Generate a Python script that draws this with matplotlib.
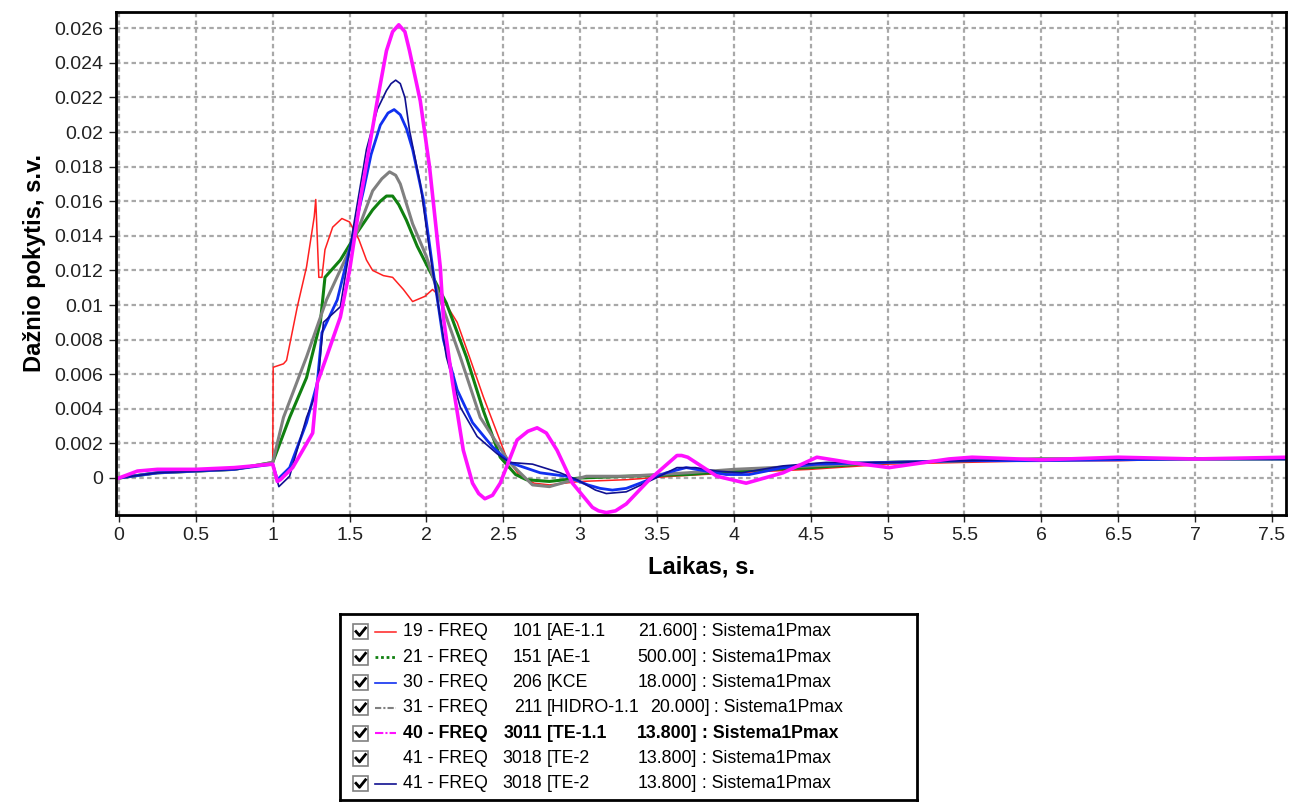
import numpy as np
import matplotlib
matplotlib.use("Agg")
import matplotlib.pyplot as plt
from matplotlib.patches import Rectangle
from matplotlib.ticker import FuncFormatter, FixedLocator

plt.rcParams['font.family'] = ['Liberation Sans', 'DejaVu Sans']

# --- data (time in s, frequency deviation in p.u.) ---
t_red = [0, 0.25, 0.5, 0.75, 1.0, 1.003, 1.07, 1.09, 1.16, 1.22, 1.27, 1.28, 1.30, 1.32,
         1.34, 1.39, 1.45, 1.50, 1.56, 1.61, 1.65, 1.72, 1.78, 1.85, 1.91, 1.99, 2.04,
         2.11, 2.20, 2.28, 2.37, 2.46, 2.52, 2.60, 2.70, 2.80, 3.0, 3.3, 3.6, 4.0, 4.5,
         5.0, 5.5, 6.0, 6.5, 7.0, 7.6]
y_red = [0, 0.0003, 0.0004, 0.0005, 0.0008, 0.0064, 0.0066, 0.0068, 0.0099, 0.0122,
         0.0151, 0.0161, 0.0116, 0.0116, 0.0132, 0.0145, 0.0150, 0.0148, 0.0138, 0.0126,
         0.0120, 0.0117, 0.0116, 0.0109, 0.0102, 0.0105, 0.0109, 0.0103, 0.0090, 0.0070,
         0.0047, 0.0026, 0.0012, 0.0002, -0.0003, -0.0004, -0.0002, -0.0001, 0.0001,
         0.0003, 0.0005, 0.0008, 0.0009, 0.0010, 0.0010, 0.0011, 0.0011]

t_green = [0, 0.25, 0.5, 0.75, 1.0, 1.11, 1.22, 1.31, 1.34, 1.44, 1.55, 1.65, 1.70, 1.74,
           1.78, 1.82, 1.87, 1.94, 2.02, 2.13, 2.26, 2.37, 2.48, 2.58, 2.65, 2.80, 3.0,
           3.3, 3.7, 4.0, 4.5, 5.0, 5.5, 6.0, 6.5, 7.0, 7.6]
y_green = [0, 0.0003, 0.0004, 0.0005, 0.0009, 0.0035, 0.0058, 0.0090, 0.0116, 0.0126,
           0.0142, 0.0155, 0.0160, 0.0163, 0.0163, 0.0158, 0.0149, 0.0134, 0.0120,
           0.0101, 0.0070, 0.0039, 0.0012, 0.0002, -0.0001, -0.0002, 0.0, 0.0001,
           0.0002, 0.0004, 0.0006, 0.0009, 0.0010, 0.0011, 0.0011, 0.0011, 0.0011]

t_blue = [0, 0.25, 0.5, 0.75, 1.0, 1.03, 1.11, 1.22, 1.29, 1.32, 1.42, 1.50, 1.59, 1.64,
          1.70, 1.75, 1.79, 1.83, 1.87, 1.91, 1.98, 2.04, 2.11, 2.20, 2.30, 2.43, 2.54,
          2.74, 2.91, 3.05, 3.13, 3.21, 3.30, 3.39, 3.56, 3.69, 3.95, 4.10, 4.32, 4.54,
          5.0, 5.5, 6.0, 7.0, 7.6]
y_blue = [0, 0.0003, 0.0004, 0.0005, 0.0008, -0.0001, 0.0006, 0.0032, 0.0055, 0.0084,
          0.0103, 0.0132, 0.0166, 0.0187, 0.0204, 0.0211, 0.0213, 0.0210, 0.0202,
          0.0190, 0.0161, 0.0122, 0.0080, 0.0051, 0.0032, 0.0018, 0.0009, 0.0003,
          0.0001, -0.0004, -0.0006, -0.0007, -0.0006, -0.0003, 0.0003, 0.0006, 0.0002,
          0.0002, 0.0006, 0.0008, 0.0009, 0.0010, 0.0010, 0.0011, 0.0011]

t_gray = [0, 0.25, 0.5, 0.75, 1.0, 1.07, 1.22, 1.35, 1.48, 1.57, 1.65, 1.71, 1.76, 1.80,
          1.83, 1.91, 2.0, 2.09, 2.22, 2.35, 2.54, 2.69, 2.80, 3.04, 3.3, 3.7, 4.0, 4.5,
          5.0, 5.5, 6.0, 6.5, 7.0, 7.6]
y_gray = [0, 0.0003, 0.0004, 0.0005, 0.0009, 0.0035, 0.0070, 0.0103, 0.0128, 0.0147,
          0.0166, 0.0173, 0.0177, 0.0175, 0.0170, 0.0147, 0.0128, 0.0103, 0.0070,
          0.0035, 0.0009, -0.0004, -0.0005, 0.0001, 0.0001, 0.0003, 0.0005, 0.0007,
          0.0009, 0.0010, 0.0011, 0.0011, 0.0011, 0.0011]

t_mag = [0, 0.12, 0.25, 0.5, 0.75, 1.0, 1.03, 1.05, 1.13, 1.26, 1.29, 1.35, 1.44, 1.50,
         1.57, 1.63, 1.68, 1.74, 1.78, 1.82, 1.86, 1.89, 1.96, 2.02, 2.09, 2.11, 2.17,
         2.24, 2.30, 2.34, 2.38, 2.43, 2.48, 2.59, 2.66, 2.72, 2.78, 2.85, 2.95, 3.08,
         3.12, 3.17, 3.23, 3.30, 3.45, 3.63, 3.66, 3.70, 3.89, 4.08, 4.32, 4.54, 4.75,
         5.01, 5.40, 5.55, 6.0, 6.5, 7.0, 7.6]
y_mag = [0, 0.0004, 0.0005, 0.0005, 0.0006, 0.0008, -0.0002, -0.0001, 0.0006, 0.0026,
         0.0055, 0.0070, 0.0093, 0.0120, 0.0161, 0.0192, 0.0218, 0.0247, 0.0258,
         0.0262, 0.0258, 0.0247, 0.0218, 0.0180, 0.0122, 0.0093, 0.0055, 0.0016,
         -0.0003, -0.0009, -0.0012, -0.0010, -0.0003, 0.0022, 0.0027, 0.0029, 0.0026,
         0.0016, -0.0003, -0.0017, -0.0019, -0.0020, -0.0019, -0.0015, -0.0001, 0.0013,
         0.0013, 0.0012, 0.0001, -0.0003, 0.0003, 0.0012, 0.0009, 0.0006, 0.0011,
         0.0012, 0.00105, 0.0012, 0.0011, 0.0012]

t_navy = [0, 0.25, 0.5, 0.75, 1.0, 1.04, 1.11, 1.22, 1.29, 1.33, 1.44, 1.50, 1.61, 1.68,
          1.74, 1.77, 1.80, 1.83, 1.86, 1.89, 1.96, 2.02, 2.13, 2.22, 2.33, 2.46, 2.54,
          2.69, 2.87, 2.98, 3.10, 3.17, 3.30, 3.47, 3.63, 3.75, 3.89, 4.05, 4.32, 4.6,
          5.0, 5.5, 6.0, 7.0, 7.6]
y_navy = [0, 0.0003, 0.0004, 0.0005, 0.0008, -0.0005, 0.0001, 0.0035, 0.0051, 0.0090,
          0.0099, 0.0132, 0.0190, 0.0213, 0.0224, 0.0228, 0.0230, 0.0228, 0.0220,
          0.0201, 0.0170, 0.0132, 0.0070, 0.0041, 0.0024, 0.0014, 0.0009, 0.0008,
          0.0003, -0.0001, -0.0007, -0.0009, -0.0008, -0.0001, 0.0006, 0.0006, 0.0004,
          0.0003, 0.0007, 0.0009, 0.0009, 0.0010, 0.0011, 0.0011, 0.0011]

# legend rows
sig_ids = ["19", "21", "30", "31", "40", "41", "41"]
buses = ["101", "151", "206", "211", "3011", "3018", "3018"]
names = ["AE-1.1", "AE-1", "KCE", "HIDRO-1.1", "TE-1.1", "TE-2", "TE-2"]
bases = ["21.600", "500.00", "18.000", "20.000", "13.800", "13.800", "13.800"]
case = "Sistema1Pmax"

series = [
    (t_red, y_red, dict(color="#ff2020", lw=1.1), dict(color="#ff2020", lw=1.1)),
    (t_green, y_green, dict(color="#108010", lw=2.2), dict(color="#108010", lw=2, ls=(0, (1, 1)))),
    (t_blue, y_blue, dict(color="#1030f0", lw=2.0), dict(color="#1030f0", lw=1.2)),
    (t_gray, y_gray, dict(color="#808080", lw=2.2), dict(color="#808080", lw=1.5, ls=(0, (3, 1, 1, 1)))),
    (t_mag, y_mag, dict(color="#ff10ff", lw=2.6), dict(color="#ff10ff", lw=1.5, ls=(0, (4, 1, 1, 1)))),
    (t_navy, y_navy, dict(color="none", lw=0), dict(color="none", lw=0)),
    (t_navy, y_navy, dict(color="#101090", lw=1.2), dict(color="#101090", lw=1.2)),
]

fig = plt.figure(figsize=(13.06, 8.02), dpi=100)
ax = fig.add_axes([116 / 1306, 1 - 515 / 802, 1170 / 1306, 503 / 802])

draw_order = [0, 1, 3, 2, 6, 4]
for i in draw_order:
    t, y, st, _ = series[i]
    ax.plot(t, y, solid_joinstyle="round", **st)

ax.set_xlim(-0.0195, 7.592)
ax.set_ylim(-0.00214, 0.02694)
ax.xaxis.set_major_locator(FixedLocator(np.arange(0, 7.51, 0.5)))
ax.yaxis.set_major_locator(FixedLocator(np.arange(0, 0.02601, 0.002)))
fmt = FuncFormatter(lambda v, p: "%g" % round(v, 6))
ax.xaxis.set_major_formatter(fmt)
ax.yaxis.set_major_formatter(fmt)
ax.tick_params(labelsize=14, length=5, width=1, colors="#222222", pad=4)
ax.grid(True, color="#a8a8a8", lw=1.6, ls=(0, (2, 1.5)))
ax.set_axisbelow(True)
for s in ax.spines.values():
    s.set_linewidth(2)
    s.set_color("black")

ax.set_xlabel("Laikas, s.", fontsize=17, fontweight="bold", labelpad=8)
ax.set_ylabel("Dažnio pokytis, s.v.", fontsize=17, fontweight="bold", labelpad=6)

# --- legend box built by hand (pixel coordinates) ---
lg = fig.add_axes([340 / 1306, 2 / 802, 577 / 1306, 186 / 802])
lg.set_xlim(340, 917)
lg.set_ylim(800, 614)
lg.set_xticks([])
lg.set_yticks([])
for s in lg.spines.values():
    s.set_linewidth(2)
    s.set_color("black")

renderer = fig.canvas.get_renderer()
inv = lg.transData.inverted()

row_y = 632
for k in range(len(sig_ids)):
    yy = row_y + k * 25.3
    lg.add_patch(Rectangle((353, yy - 7.5), 15, 15, facecolor="white",
                           edgecolor="#808080", lw=1.2))
    lg.plot([356, 359.5, 365.5], [yy - 0.5, yy + 3.5, yy - 4], color="black", lw=2)
    lg.plot([375, 396], [yy, yy], **series[k][3])
    w = "bold" if sig_ids[k] == "40" else "normal"
    kw = dict(fontsize=12.8, va="center", fontweight=w, color="black")
    lg.text(403, yy, f"{sig_ids[k]} - FREQ", ha="left", **kw)
    lg.text(542, yy, buses[k], ha="right", **kw)
    nm = lg.text(547, yy, f"[{names[k]}", ha="left", **kw)
    name_end = inv.transform(nm.get_window_extent(renderer).get_points())[1, 0]
    bv = lg.text(697, yy, f"{bases[k]}]", ha="right", **kw)
    bx = bv.get_window_extent(renderer).get_points()
    b_left, b_right = inv.transform(bx)[:, 0]
    if b_left < name_end + 10:
        shift = name_end + 10 - b_left
        bv.set_x(697 + shift)
        b_right += shift
    lg.text(b_right, yy, f" : {case}", ha="left", **kw)

fig.savefig("out.png", dpi=100)
